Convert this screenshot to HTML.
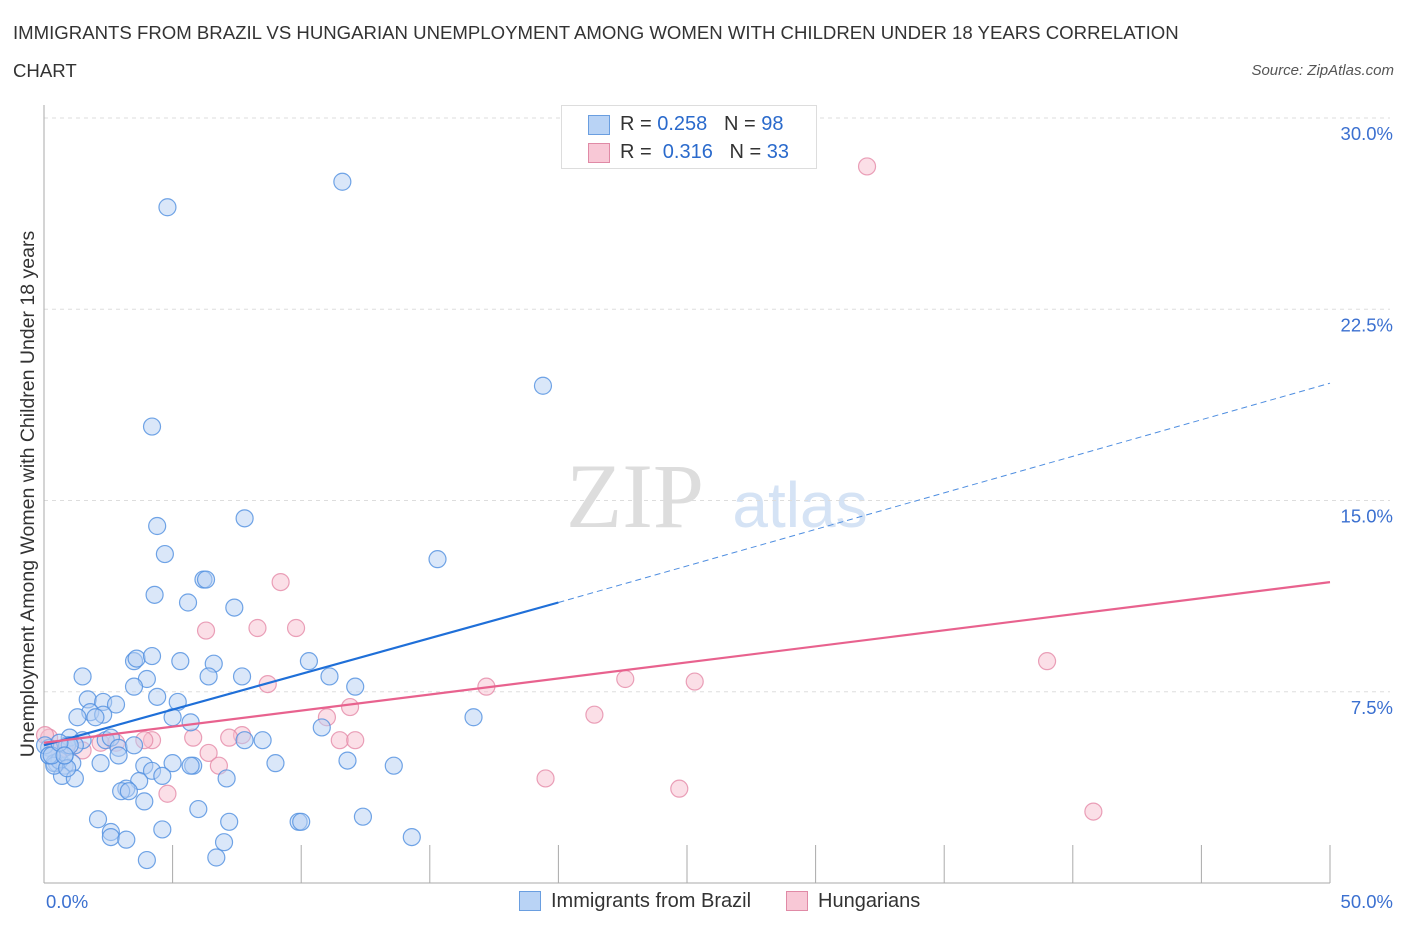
<!DOCTYPE html>
<html><head><meta charset="utf-8"><style>
body{margin:0;background:#fff;font-family:"Liberation Sans",sans-serif;}
#wrap{position:relative;width:1406px;height:930px;overflow:hidden;}
.t{position:absolute;left:13px;font-size:18.6px;color:#333;}
</style></head><body>
<div id="wrap">
<div class="t" style="top:22px">IMMIGRANTS FROM BRAZIL VS HUNGARIAN UNEMPLOYMENT AMONG WOMEN WITH CHILDREN UNDER 18 YEARS CORRELATION</div>
<div class="t" style="top:60px">CHART</div>
<div style="position:absolute;right:12px;top:62px;font-size:15px;font-style:italic;color:#555">Source: ZipAtlas.com</div>
<svg id="svg" width="1406" height="930" style="position:absolute;left:0;top:0">
<text x="635" y="527" text-anchor="middle" font-family="Liberation Serif" font-size="92" fill="#ddd">ZIP</text>
<text x="800" y="527" text-anchor="middle" font-size="64" fill="#d5e3f5">atlas</text>
<text transform="translate(34,494) rotate(-90)" text-anchor="middle" font-size="19.5" fill="#333">Unemployment Among Women with Children Under 18 years</text>
</svg>
<div style="position:absolute;left:561px;top:105px;width:254px;height:62px;border:1px solid #ddd;background:#fff;font-size:20px;color:#333">
<div style="position:absolute;left:26px;top:9px;width:20px;height:18px;background:#b9d3f5;border:1px solid #6a9ee0"></div>
<div style="position:absolute;left:58px;top:7px">R = <span style="color:#2a6acc">0.258</span>&nbsp;&nbsp;&nbsp;N = <span style="color:#2a6acc">98</span></div>
<div style="position:absolute;left:26px;top:37px;width:20px;height:18px;background:#f8c8d6;border:1px solid #e08aa6"></div>
<div style="position:absolute;left:58px;top:35px">R = &nbsp;<span style="color:#2a6acc">0.316</span>&nbsp;&nbsp;&nbsp;N = <span style="color:#2a6acc">33</span></div>
</div>
<div style="position:absolute;left:519px;top:891px;width:20px;height:18px;background:#b9d3f5;border:1px solid #6a9ee0"></div>
<div style="position:absolute;left:551px;top:890px;font-size:20px;color:#333">Immigrants from Brazil</div>
<div style="position:absolute;left:786px;top:891px;width:20px;height:18px;background:#f8c8d6;border:1px solid #e08aa6"></div>
<div style="position:absolute;left:818px;top:890px;font-size:20px;color:#333">Hungarians</div>
</div>
<script>
const xTicks=[0,5,10,15,20,25,30,35,40,45,50];
const yTicks=[7.5,15,22.5,30];
const yTickLabels=["7.5%","15.0%","22.5%","30.0%"];
const blueX=[11.6,4.8,19.4,4.2,4.4,7.8,4.7,15.3,6.2,6.3,4.3,5.6,7.4,1.5,3.5,3.6,4.2,5.3,6.6,10.3,11.1,12.1,4.0,6.4,7.7,3.5,4.4,5.2,1.7,2.3,2.8,1.8,2.3,1.3,2.0,5.0,5.7,16.7,10.8,1.0,1.5,2.4,7.8,8.5,0.2,0.9,1.2,2.6,2.9,3.5,2.9,3.9,5.0,9.0,11.8,0.2,0.5,0.8,0.4,0.6,1.1,2.2,5.8,5.7,4.2,13.6,4.6,0.7,1.2,7.1,3.7,3.2,3.0,3.3,3.9,6.0,2.1,12.4,9.9,10.0,7.2,4.6,2.6,2.6,3.2,14.3,7.0,6.7,4.0,0.8,0.4,0.9,0.04,0.2,0.3,1.0,0.6,0.8];
const blueY=[27.5,26.5,19.5,17.9,14.0,14.3,12.9,12.7,11.9,11.9,11.3,11.0,10.8,8.1,8.7,8.8,8.9,8.7,8.6,8.7,8.1,7.7,8.0,8.1,8.1,7.7,7.3,7.1,7.2,7.1,7.0,6.7,6.6,6.5,6.5,6.5,6.3,6.5,6.1,5.7,5.6,5.6,5.6,5.6,5.3,5.4,5.4,5.7,5.3,5.4,5.0,4.6,4.7,4.7,4.8,5.0,4.7,4.6,4.7,4.8,4.7,4.7,4.6,4.6,4.4,4.6,4.2,4.2,4.1,4.1,4.0,3.7,3.6,3.6,3.2,2.9,2.5,2.6,2.4,2.4,2.4,2.1,2.0,1.8,1.7,1.8,1.6,1.0,0.9,5.0,4.6,4.5,5.4,5.0,5.0,5.4,5.5,5.0];
const pinkX=[32.0,9.2,9.8,8.3,6.3,39.0,8.7,25.3,22.6,17.2,11.9,11.0,21.4,5.8,4.2,7.7,7.2,11.5,12.1,3.9,2.8,2.2,0.8,0.2,0.04,0.6,6.4,6.8,19.5,4.8,24.7,40.8,1.5];
const pinkY=[28.1,11.8,10.0,10.0,9.9,8.7,7.8,7.9,8.0,7.7,6.9,6.5,6.6,5.7,5.6,5.8,5.7,5.6,5.6,5.6,5.5,5.5,5.3,5.7,5.8,5.2,5.1,4.6,4.1,3.5,3.7,2.8,5.2];
const blueTrend=[[0,5.4],[20,11.0],[50,19.6]];
const pinkTrend=[[0,5.5],[50,11.8]];
const X=v=>44+v*25.72, Y=v=>883-v*25.5;
const svg=document.getElementById('svg'),NS='http://www.w3.org/2000/svg';
function mk(t,a){const e=document.createElementNS(NS,t);for(const k in a)e.setAttribute(k,a[k]);svg.appendChild(e);return e;}
yTicks.forEach((v,i)=>{
 const g=mk('line',{x1:44,x2:1390,y1:Y(v),y2:Y(v),stroke:'#ddd','stroke-dasharray':'4,4'});
 
 
 const t=mk('text',{x:1393,y:Y(v)+22,'text-anchor':'end','font-size':18.5,fill:'#3b70d0'});
 t.textContent=yTickLabels[i];
 
 
});
let a=mk('line',{x1:44,x2:44,y1:105,y2:883,stroke:'#aaa'});


a=mk('line',{x1:44,x2:1330,y1:883,y2:883,stroke:'#aaa'});


xTicks.forEach(v=>{const l=mk('line',{x1:X(v),x2:X(v),y1:845,y2:883,stroke:'#aaa'});
 
 });
[[0,'0.0%','start',46],[50,'50.0%','end',1393]].forEach(d=>{const t=mk('text',{x:d[3],y:908,'text-anchor':d[2],'font-size':18.5,fill:'#3b70d0'});t.textContent=d[1];
 
 });
function dots(xs,ys,fill,stroke,name){xs.forEach((x,i)=>{const c=mk('circle',{cx:X(x),cy:Y(ys[i]),r:8.5,fill:fill,'fill-opacity':0.5,stroke:stroke,'stroke-opacity':0.8,'stroke-width':1.2});
 
 });}
dots(pinkX,pinkY,'#f8c0d0','#e58aa8','point-hungarians');
dots(blueX,blueY,'#b5d0f3','#4f8ee0','point-brazil');
let l=mk('line',{x1:X(blueTrend[0][0]),y1:Y(blueTrend[0][1]),x2:X(blueTrend[1][0]),y2:Y(blueTrend[1][1]),stroke:'#1f6fd8','stroke-width':2.2});


l=mk('line',{x1:X(blueTrend[1][0]),y1:Y(blueTrend[1][1]),x2:X(blueTrend[2][0]),y2:Y(blueTrend[2][1]),stroke:'#4f8ee0','stroke-width':1,'stroke-dasharray':'6,4'});


l=mk('line',{x1:X(pinkTrend[0][0]),y1:Y(pinkTrend[0][1]),x2:X(pinkTrend[1][0]),y2:Y(pinkTrend[1][1]),stroke:'#e8628e','stroke-width':2.2});


</script>
</body></html>
